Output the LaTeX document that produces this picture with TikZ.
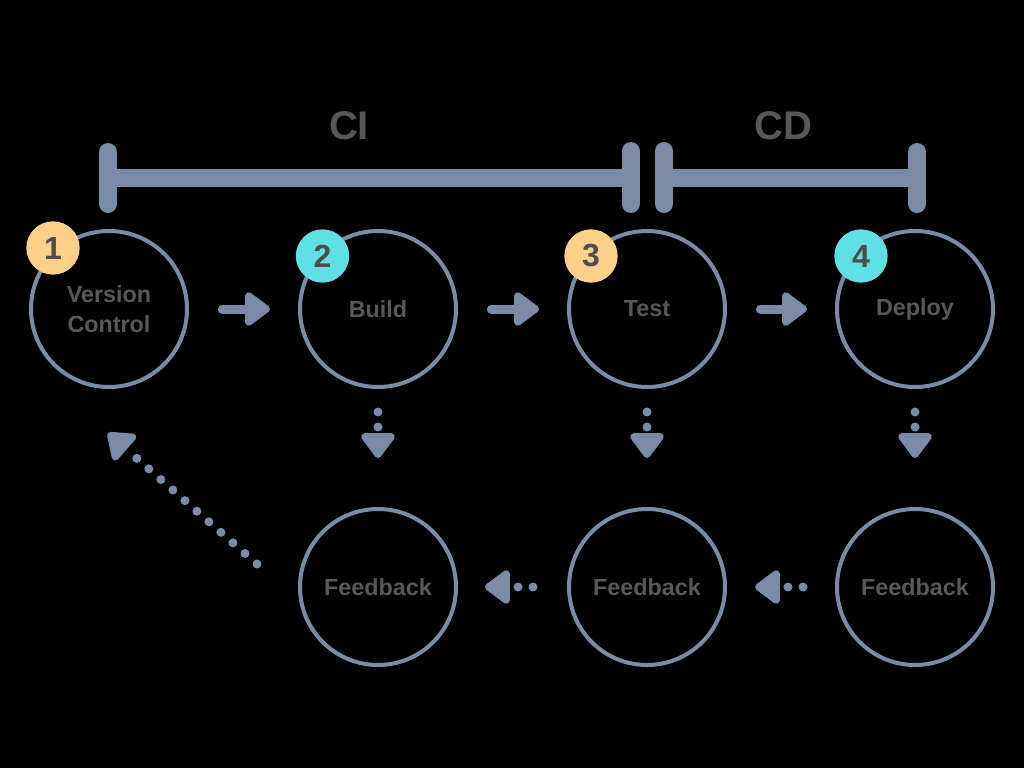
\documentclass[tikz,border=0pt]{standalone}
\usepackage{fontspec}
\setmainfont{Liberation Sans}
\usetikzlibrary{arrows.meta}
\definecolor{slate}{RGB}{122,139,166}
\definecolor{peach}{RGB}{255,208,138}
\definecolor{aqua}{RGB}{94,224,230}
\definecolor{labelgray}{RGB}{88,88,88}
\definecolor{numgray}{RGB}{77,77,77}
\tikzset{
  stage/.style={circle, draw=slate, line width=3pt, minimum size=117pt, inner sep=0pt,
    font=\fontsize{17.5}{22.5}\selectfont\bfseries, text=labelgray, align=center},
  badge/.style={circle, minimum size=40pt, inner sep=0pt,
    font=\fontsize{24}{28}\selectfont\bfseries, text=numgray},
  phase/.style={font=\fontsize{30}{34}\selectfont\bfseries, text=labelgray},
  bracketbar/.style={draw=slate, line width=13.5pt},
  bracketcap/.style={draw=slate, line width=13.5pt, line cap=round},
  flowarrow/.style={draw=slate, line width=6.75pt, line cap=round,
    -{Triangle[length=20.5pt, width=29pt, round]}},
  fbarrow/.style={draw=slate, line width=6.75pt, line cap=round, dash pattern=on 0pt off 11.25pt,
    -{Triangle[length=20.5pt, width=29pt, round]}}
}
\begin{document}
\begin{tikzpicture}[x=0.75pt, y=-0.75pt]
\useasboundingbox (0,0) rectangle (1024,768);
\fill[black] (0,0) rectangle (1024,768);

% brackets
\draw[bracketbar] (108,177.5) -- (630.5,177.5);
\draw[bracketcap] (108,152) -- (108,204);
\draw[bracketcap] (630.5,151) -- (630.5,204);
\draw[bracketbar] (664,177.5) -- (917,177.5);
\draw[bracketcap] (664,151) -- (664,204);
\draw[bracketcap] (917,152) -- (917,204);
\node[phase] (ci) at (349,126) {CI};
\node[phase] (cd) at (783,126) {CD};

% stages
\node[stage] (vc) at (109,309) {Version\\Control};
\node[stage] (build) at (378,309) {Build};
\node[stage] (test) at (647,309) {Test};
\node[stage] (deploy) at (915,309) {Deploy};
\node[stage] (fb1) at (378,587) {Feedback};
\node[stage] (fb2) at (647,587) {Feedback};
\node[stage] (fb3) at (915,587) {Feedback};

% badges
\node[badge, fill=peach] (b1) at (53,248) {1};
\node[badge, fill=aqua] (b2) at (322.5,256) {2};
\node[badge, fill=peach] (b3) at (591,256) {3};
\node[badge, fill=aqua] (b4) at (861,256) {4};

% flow arrows
\draw[flowarrow, shorten <=25pt, shorten >=21pt] (vc) -- (build);
\draw[flowarrow, shorten <=25pt, shorten >=21pt] (build) -- (test);
\draw[flowarrow, shorten <=25pt, shorten >=21pt] (test) -- (deploy);

% feedback arrows
\draw[fbarrow, shorten <=17.25pt, shorten >=36.75pt] (build) -- (fb1);
\draw[fbarrow, shorten <=17.25pt, shorten >=36.75pt] (test) -- (fb2);
\draw[fbarrow, shorten <=17.25pt, shorten >=36.75pt] (deploy) -- (fb3);
\draw[fbarrow, shorten <=24pt, shorten >=21pt] (fb3) -- (fb2);
\draw[fbarrow, shorten <=25.5pt, shorten >=20.25pt] (fb2) -- (fb1);
\coordinate (diagstart) at (257,564);
\coordinate (diagtip) at (108,433);
\draw[fbarrow, dash pattern=on 0pt off 12pt] (diagstart) -- (diagtip);
\end{tikzpicture}
\end{document}
